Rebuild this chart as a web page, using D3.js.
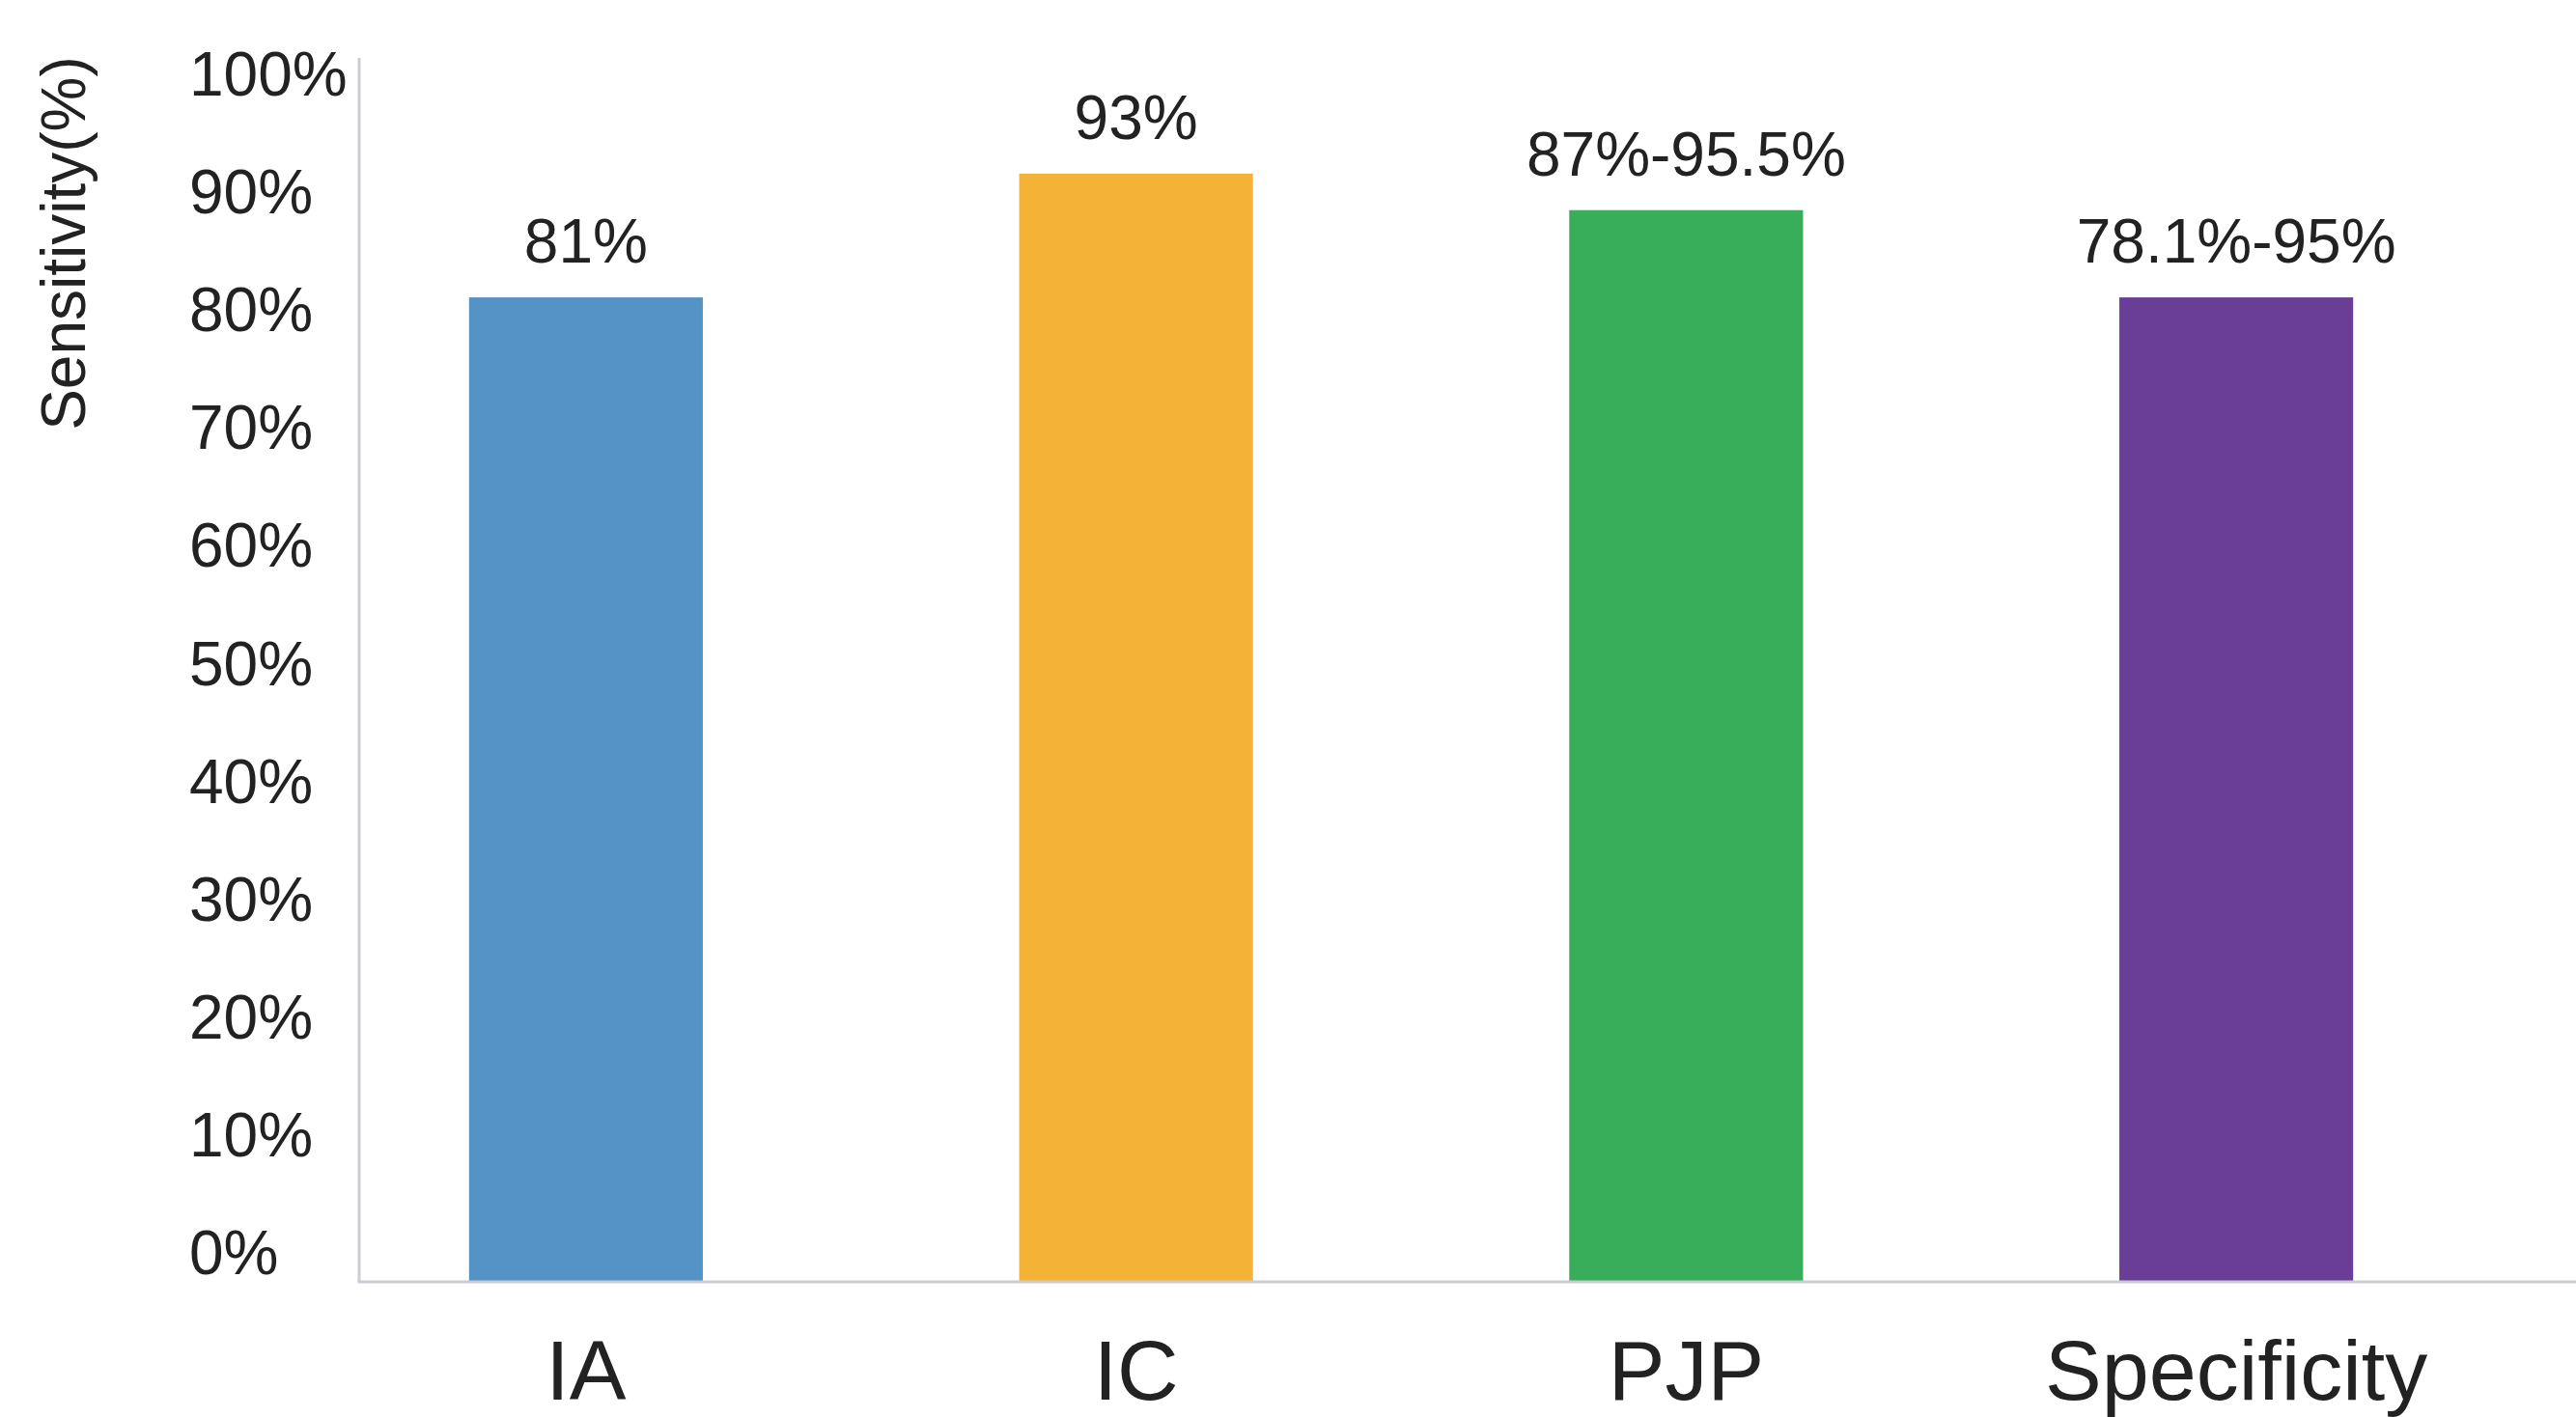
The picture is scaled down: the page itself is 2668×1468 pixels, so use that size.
<!DOCTYPE html>
<html>
<head>
<meta charset="utf-8">
<script src="https://cdn.jsdelivr.net/npm/d3@7"></script>
<style>
  html, body { margin: 0; padding: 0; background: #fff; }
  text { font-family: "Liberation Sans", Arial, Helvetica, sans-serif; fill: #222; }
</style>
</head>
<body>
<div class="chart"></div>
<script>
(function(){
  'use strict';

  // Data.
  var categories = ['IA', 'IC', 'PJP', 'Specificity'];
  var values = [81, 91.5, 88.4, 81];
  var valueLabels = ['81%', '93%', '87%-95.5%', '78.1%-95%'];
  var colors = ['#5592c6', '#f4b336', '#38ad5a', '#6a3e97'];
  var yTicks = [0, 10, 20, 30, 40, 50, 60, 70, 80, 90, 100];
  var yTitle = 'Sensitivity(%)';

  var width = 2668, height = 1468;
  var baseY = 1328, axisX = 372;

  var svg = d3.select('.chart')
    .append('svg')
      .attr('width', width)
      .attr('height', height);

  // Scales.
  var x = d3.scaleBand()
      .domain(categories)
      .range([322, 2601])
      .paddingInner(0.575)
      .paddingOuter(0.2875);

  var y = d3.scaleLinear()
      .domain([-2.5, 100])
      .range([baseY, 76]);

  // Bars.
  svg.selectAll('rect.bar')
    .data(categories)
    .enter()
    .append('rect')
      .attr('class', 'bar')
      .attr('x', function(d){ return x(d); })
      .attr('width', x.bandwidth())
      .attr('y', function(d, i){ return y(values[i]); })
      .attr('height', function(d, i){ return y(-2.5) - y(values[i]); })
      .style('fill', function(d, i){ return colors[i]; });

  // Value labels.
  svg.selectAll('text.val')
    .data(categories)
    .enter()
    .append('text')
      .attr('class', 'val')
      .attr('x', function(d){ return x(d) + x.bandwidth() / 2; })
      .attr('y', function(d, i){ return y(values[i]) - 36; })
      .attr('text-anchor', 'middle')
      .style('font-size', '64px')
      .text(function(d, i){ return valueLabels[i]; });

  // Y axis (labels left-aligned, no ticks).
  var yAxis = d3.axisLeft(y)
      .tickValues(yTicks)
      .tickSize(0)
      .tickPadding(0)
      .tickFormat(function(d){ return d + '%'; });

  var gy = svg.append('g')
      .attr('transform', 'translate(' + axisX + ',0)')
      .call(yAxis);
  gy.select('.domain').remove();
  gy.selectAll('text')
      .attr('x', 196 - axisX)
      .attr('text-anchor', 'start')
      .attr('dy', '0.35em')
      .style('font-size', '64px')
      .style('font-family', '"Liberation Sans", Arial, sans-serif')
      .style('fill', '#222');

  // X axis labels.
  var xAxis = d3.axisBottom(x).tickSize(0).tickPadding(0);
  var gx = svg.append('g')
      .attr('transform', 'translate(0,' + baseY + ')')
      .call(xAxis);
  gx.select('.domain').remove();
  gx.selectAll('text')
      .attr('y', 122)
      .attr('dy', 0)
      .style('font-size', '88px')
      .style('font-family', '"Liberation Sans", Arial, sans-serif')
      .style('fill', '#222');

  // Axis lines.
  svg.append('line')
      .attr('x1', axisX).attr('x2', axisX)
      .attr('y1', 60).attr('y2', baseY)
      .style('stroke', '#c9cdd3')
      .style('stroke-width', 3);
  svg.append('line')
      .attr('x1', axisX - 1.5).attr('x2', width)
      .attr('y1', baseY).attr('y2', baseY)
      .style('stroke', '#c9cdd3')
      .style('stroke-width', 3);

  // Y title.
  svg.append('text')
      .attr('transform', 'translate(88,252) rotate(-90)')
      .attr('text-anchor', 'middle')
      .style('font-size', '64px')
      .text(yTitle);
})();
</script>
</body>
</html>
